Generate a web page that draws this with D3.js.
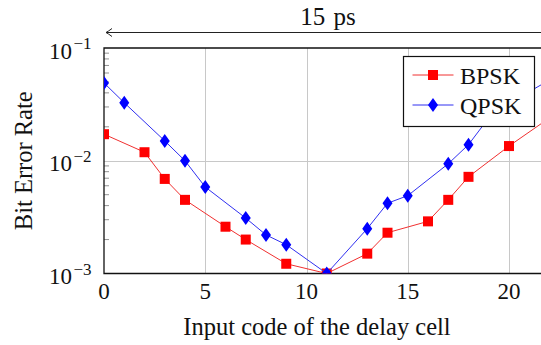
<!DOCTYPE html>
<html>
<head>
<meta charset="utf-8">
<style>
  body { margin: 0; background: #fff; }
  svg { display: block; }
  text { font-family: "Liberation Serif", "Times New Roman", serif; fill: #111; }
</style>
<script src="https://cdn.jsdelivr.net/npm/d3@7"></script>
</head>
<body>
<svg id="chart"></svg>
<script>
// values
const bpskCode = [0, 2, 3, 4, 6, 7, 9, 11, 13, 14, 16, 17, 18, 20, 22];
const bpskBer  = [0.0172, 0.0119, 0.0069, 0.0045, 0.0026, 0.0020, 0.00122, 0.001,
                  0.0015, 0.0023, 0.0029, 0.0045, 0.0072, 0.0135, 0.024];
const qpskCode = [0, 1, 3, 4, 5, 7, 8, 9, 11, 13, 14, 15, 17, 18, 19, 20, 21, 22];
const qpskBer  = [0.049, 0.0327, 0.015, 0.010, 0.00585, 0.0031, 0.0022, 0.0018, 0.001,
                  0.0025, 0.0042, 0.0049, 0.0094, 0.0139, 0.024, 0.033, 0.041, 0.052];
const xTicks = [0, 5, 10, 15, 20];
const yTicks = [-1, -2, -3]; // exponents
const seriesNames = ["BPSK", "QPSK"];

const width = 541, height = 345;
const margin = {left: 104, top: 48, bottom: 72};
const svg = d3.select("#chart").attr("width", width).attr("height", height);

// plot runs off the right edge of the picture
const x = d3.scaleLinear().domain([0, 25]).range([margin.left, margin.left + 25 * 20.25]);
const y = d3.scaleLog().domain([1e-3, 1e-1]).range([height - margin.bottom + 0.5, margin.top]);

svg.append("clipPath").attr("id", "plotclip")
  .append("rect")
  .attr("x", x(0)).attr("y", y(1e-1))
  .attr("width", x(25) - x(0)).attr("height", y(1e-3) - y(1e-1));

// grid
const grid = svg.append("g").attr("stroke", "#c8c8c8").attr("stroke-width", 1);
grid.selectAll("line.vx").data(xTicks.slice(1)).enter().append("line")
  .attr("x1", d => Math.round(x(d)) + 0.5).attr("x2", d => Math.round(x(d)) + 0.5)
  .attr("y1", y(1e-1)).attr("y2", y(1e-3));
grid.append("line")
  .attr("x1", x(0)).attr("x2", width)
  .attr("y1", Math.round(y(1e-2)) + 0.5).attr("y2", Math.round(y(1e-2)) + 0.5);

// minor ticks on the left axis
const minor = [];
[-3, -2].forEach(e => { for (let k = 2; k <= 9; k++) minor.push(k * Math.pow(10, e)); });
svg.append("g").selectAll("line").data(minor).enter().append("line")
  .attr("x1", x(0)).attr("x2", x(0) + 5)
  .attr("y1", d => y(d)).attr("y2", d => y(d))
  .attr("stroke", "#777").attr("stroke-width", 0.8);

// frame: left, top, bottom
svg.append("path")
  .attr("d", `M${width},${y(1e-1)}H${x(0)}V${y(1e-3)}H${width}`)
  .attr("fill", "none").attr("stroke", "#111").attr("stroke-width", 1.3);

// x tick labels
svg.append("g").selectAll("text").data(xTicks).enter().append("text")
  .attr("x", d => x(d)).attr("y", y(1e-3) + 25)
  .attr("text-anchor", "middle").attr("font-size", 23)
  .text(d => d);

// y tick labels 10^e
const yl = svg.append("g").selectAll("text").data(yTicks).enter().append("text")
  .attr("x", 49).attr("y", d => y(Math.pow(10, d)) + 10.5)
  .attr("font-size", 23);
yl.append("tspan").text("10");
yl.append("tspan").attr("dx", 1.5).attr("dy", -9.5).attr("font-size", 17).text(d => "\u2212" + (-d));

// axis titles
svg.append("text")
  .attr("x", 317).attr("y", 335)
  .attr("text-anchor", "middle").attr("font-size", 24.5)
  .text("Input code of the delay cell");
svg.append("text")
  .attr("transform", `translate(32,${(y(1e-1) + y(1e-3)) / 2}) rotate(-90)`)
  .attr("text-anchor", "middle").attr("font-size", 24.5)
  .text("Bit Error Rate");

// 15 ps arrow
svg.append("line")
  .attr("x1", x(0) + 2).attr("x2", width)
  .attr("y1", 32.5).attr("y2", 32.5)
  .attr("stroke", "#222").attr("stroke-width", 1);
svg.append("path")
  .attr("d", `M${x(0) + 8},28.5 Q${x(0) + 4},31.5 ${x(0) + 2},32.5 Q${x(0) + 4},33.5 ${x(0) + 8},36.5`)
  .attr("fill", "none").attr("stroke", "#222").attr("stroke-width", 1);
svg.append("text")
  .attr("x", 328).attr("y", 25)
  .attr("text-anchor", "middle").attr("font-size", 25)
  .attr("word-spacing", 2)
  .text("15 ps");

// series
const line = d3.line().x(d => x(d[0])).y(d => y(d[1]));
const bpsk = bpskCode.map((c, i) => [c, bpskBer[i]]);
const qpsk = qpskCode.map((c, i) => [c, qpskBer[i]]);
const plot = svg.append("g").attr("clip-path", "url(#plotclip)");
const diamond = "M0,-7L5,0L0,7L-5,0Z";

plot.append("path").datum(bpsk).attr("d", line)
  .attr("fill", "none").attr("stroke", "#f03030").attr("stroke-width", 1);
plot.append("g").selectAll("rect").data(bpsk).enter().append("rect")
  .attr("x", d => x(d[0]) - 5).attr("y", d => y(d[1]) - 5)
  .attr("width", 10).attr("height", 10).attr("fill", "#ff0000");

plot.append("path").datum(qpsk).attr("d", line)
  .attr("fill", "none").attr("stroke", "#3030f0").attr("stroke-width", 1);
plot.append("g").selectAll("path.m").data(qpsk).enter().append("path")
  .attr("d", diamond)
  .attr("transform", d => `translate(${x(d[0])},${y(d[1])})`)
  .attr("fill", "#0000ff");

// legend
const lg = svg.append("g").attr("transform", "translate(403.5,56.5)");
lg.append("rect").attr("width", 131).attr("height", 70)
  .attr("fill", "#fff").attr("stroke", "#111").attr("stroke-width", 1.2);
const colors = ["#ff0000", "#0000ff"];
seriesNames.forEach((name, i) => {
  const cy = 18.5 + i * 30;
  lg.append("line").attr("x1", 9).attr("x2", 50).attr("y1", cy).attr("y2", cy)
    .attr("stroke", i === 0 ? "#f03030" : "#3030f0").attr("stroke-width", 1);
  if (i === 0) {
    lg.append("rect").attr("x", 24.5).attr("y", cy - 5).attr("width", 10).attr("height", 10)
      .attr("fill", colors[i]);
  } else {
    lg.append("path").attr("d", diamond).attr("transform", `translate(29.5,${cy})`)
      .attr("fill", colors[i]);
  }
  lg.append("text").attr("x", 56.5).attr("y", cy + 8.5).attr("font-size", 24).text(name);
});
</script>
</body>
</html>
